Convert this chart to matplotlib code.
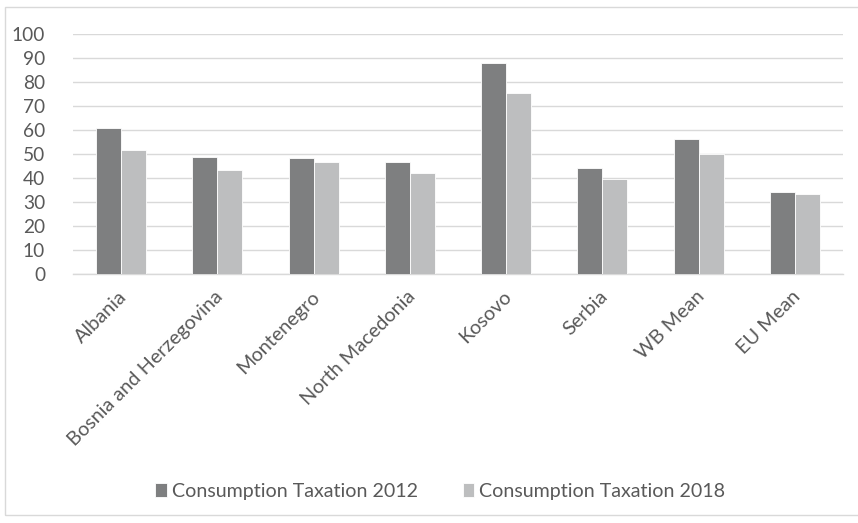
import matplotlib
matplotlib.use("Agg")
import matplotlib.pyplot as plt
import matplotlib.patches as patches
import matplotlib.transforms as mtransforms
import numpy as np

# data
categories = ["Albania", "Bosnia and Herzegovina", "Montenegro", "North Macedonia",
              "Kosovo", "Serbia", "WB Mean", "EU Mean"]
tax_2012 = [60.8, 48.9, 48.3, 46.7, 87.8, 44.2, 56.1, 34.2]
tax_2018 = [51.5, 43.3, 46.5, 42.1, 75.6, 39.6, 49.9, 33.5]
yticks = list(range(0, 101, 10))

plt.rcParams["font.family"] = ["Lato", "DejaVu Sans"]
text_col = "#595959"

fig = plt.figure(figsize=(8.58, 5.23), dpi=100)
ax = fig.add_axes([0.085, 0.476, 0.8975, 0.459])

# outer chart frame
frame = patches.Rectangle((5 / 858, 8 / 523), 1.0, 1 - 15 / 523, transform=fig.transFigure,
                          fill=False, edgecolor="#d9d9d9", linewidth=1.0)
fig.patches.append(frame)

x = np.arange(len(categories))
w = 0.26
ax.bar(x - w / 2, tax_2012, w, color="#7e7f80", edgecolor="white", linewidth=0.6,
       label="Consumption Taxation 2012", zorder=3)
ax.bar(x + w / 2, tax_2018, w, color="#bdbebf", edgecolor="white", linewidth=0.6,
       label="Consumption Taxation 2018", zorder=3)

ax.set_xlim(-0.5, len(categories) - 0.5)
ax.set_ylim(0, 100)
ax.set_yticks(yticks)
ax.yaxis.grid(True, color="#d9d9d9", linewidth=1.0, zorder=0)
for s in ["top", "right", "left"]:
    ax.spines[s].set_visible(False)
ax.spines["bottom"].set_color("#d9d9d9")
ax.spines["bottom"].set_linewidth(1.0)
ax.tick_params(axis="both", length=0, colors=text_col)
ax.tick_params(axis="y", pad=20, labelsize=13.8)
ax.tick_params(axis="x", pad=10, labelsize=14.3)
ax.set_xticks(x)
ax.set_xticklabels(categories, rotation=45, ha="right", rotation_mode="anchor")
shift = mtransforms.ScaledTranslation(-3 / 100, 0, fig.dpi_scale_trans)
for lab in ax.get_xticklabels():
    lab.set_transform(lab.get_transform() + shift)

fig.legend(loc="center", bbox_to_anchor=(0.513, 0.061), ncol=2, frameon=False,
           fontsize=14.1, labelcolor=text_col, handlelength=0.6, handleheight=0.75,
           handletextpad=0.25, columnspacing=2.3)

fig.savefig("out.png", dpi=100)
